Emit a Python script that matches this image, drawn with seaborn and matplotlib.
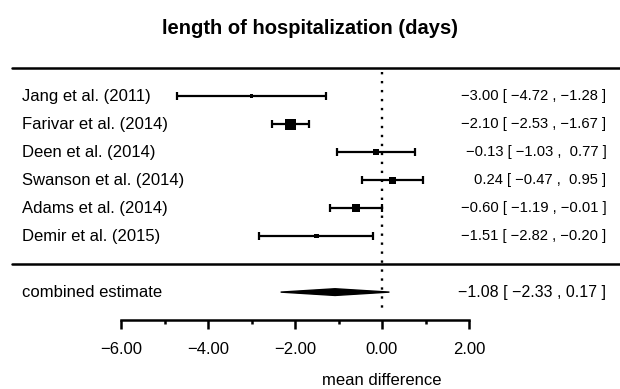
import numpy as np
import matplotlib
matplotlib.use("Agg")
import matplotlib.pyplot as plt
import seaborn as sns

# 数据
studies = ["Jang et al. (2011)", "Farivar et al. (2014)", "Deen et al. (2014)",
           "Swanson et al. (2014)", "Adams et al. (2014)", "Demir et al. (2015)"]
est = [-3.00, -2.10, -0.13, 0.24, -0.60, -1.51]
lower = [-4.72, -2.53, -1.03, -0.47, -1.19, -2.82]
upper = [-1.28, -1.67, 0.77, 0.95, -0.01, -0.20]
comb_est, comb_lo, comb_hi = -1.08, -2.33, 0.17
xticks = [-6, -4, -2, 0, 2]

sns.set_theme(style="white")
plt.rcParams['font.family'] = ['Liberation Sans', 'DejaVu Sans']
plt.rcParams['text.color'] = 'black'
plt.rcParams['xtick.color'] = 'black'

def fmt(v, pad=False):
    s = f"{v:.2f}".replace("-", "\u2212")
    if pad and v >= 0:
        s = " " + s
    return s

def ci_text(e, lo, hi, pad=True):
    return f"{fmt(e)} [ {fmt(lo, pad)} , {fmt(hi, pad)} ]"

k = len(studies)
rows = np.arange(k, 0, -1)  # 6..1 从上到下

# 方块大小 ~ 1/se (同 metafor)
se = (np.array(upper) - np.array(lower)) / 3.92
wi = 1 / se
psize = (wi - wi.min()) / (wi.max() - wi.min()) + 0.5

fig = plt.figure(figsize=(6.2, 3.89), dpi=100)
ax = fig.add_axes([0, 0, 1, 1])
ax.set_xlim(-382 / 43.5, (620 - 382) / 43.5)
ax.set_ylim(-4.46, 9.43)

# 参考线
ax.plot([0, 0], [6.85, -1.55], color="black", lw=1.7, linestyle=(0, (1, 2.8)))

# 横线
ax.axhline(k + 1, xmin=12 / 620, color="black", lw=1.8)
ax.axhline(0, xmin=12 / 620, color="black", lw=1.8)

# 置信区间
ax.errorbar(est, rows, xerr=[np.array(est) - np.array(lower), np.array(upper) - np.array(est)],
            fmt="none", ecolor="black", elinewidth=1.6, capsize=2.8, capthick=1.6)
sns.scatterplot(x=est, y=rows, size=psize ** 2, sizes=(27.7 * psize.min() ** 2, 27.7 * psize.max() ** 2),
                marker="s", color="black", linewidth=0, legend=False, ax=ax)

# 合并估计（菱形）
h = 0.12
ax.fill([comb_lo, comb_est, comb_hi, comb_est], [-1, -1 + h, -1, -1 - h],
        color="black", lw=1.0, ec="black")

# 文字
for r, name, e, lo, hi in zip(rows, studies, est, lower, upper):
    ax.text(-8.28, r, name, ha="left", va="center", fontsize=12)
    ax.text(5.16, r, ci_text(e, lo, hi), ha="right", va="center", fontsize=10.6)
ax.text(-8.28, -1, "combined estimate", ha="left", va="center", fontsize=12)
ax.text(5.16, -1, ci_text(comb_est, comb_lo, comb_hi, pad=False), ha="right", va="center", fontsize=11.5)

fig.text(0.5, 1 - 29 / 389, "length of hospitalization (days)", ha="center", va="center",
         fontsize=14.5, fontweight="bold")
ax.text(0, -4.15, "mean difference", ha="center", va="center", fontsize=12)

# x 轴
for s in ["left", "right", "top"]:
    ax.spines[s].set_visible(False)
ax.spines["bottom"].set_position(("data", -2))
ax.spines["bottom"].set_bounds(-6, 2)
ax.spines["bottom"].set_linewidth(1.8)
ax.spines["bottom"].set_color("black")
ax.set_xticks(xticks)
ax.set_xticklabels([fmt(t) for t in xticks], fontsize=12)
ax.set_xticks(np.arange(-5, 2, 2), minor=True)
ax.tick_params(axis="x", which="major", direction="out", length=6.5, width=1.8, pad=9, bottom=True)
ax.tick_params(axis="x", which="minor", direction="out", length=3.2, width=1.8, bottom=True)
ax.set_yticks([])
ax.grid(False)

fig.savefig("out.png", dpi=100)
